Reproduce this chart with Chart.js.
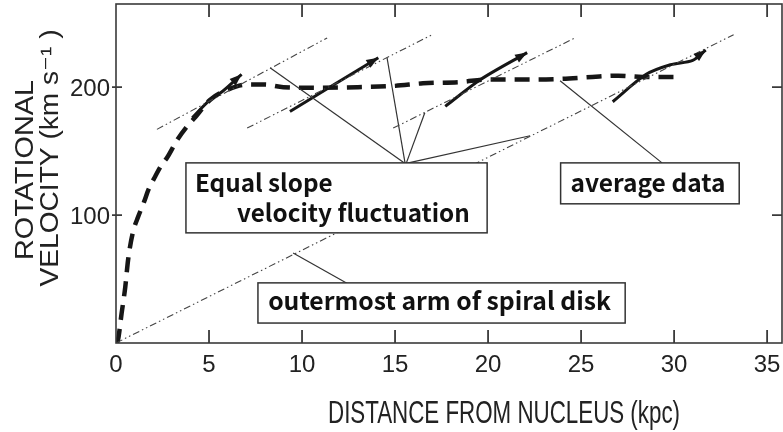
<!DOCTYPE html>
<html>
<head>
<script src="https://cdn.jsdelivr.net/npm/chart.js@4.4.1/dist/chart.umd.min.js"></script>
<style>
    html, body { margin: 0; padding: 0; background: #fff; overflow: hidden; }
</style>
</head>
<body>
<canvas id="myChart" width="783" height="432"></canvas>
<script>
// average rotation curve (thick dashed)
const avgX = [0, 0.1, 0.3, 0.5, 0.65, 0.9, 1.2, 1.5, 1.75, 2.1, 2.4, 2.75, 3.3, 3.8, 4.35, 5.05, 6, 7, 8, 9, 11, 13, 15, 16.5, 18.5, 20, 22.5, 24, 25.6, 27, 28.3, 30.3];
const avgY = [0, 2, 23, 44, 65, 86, 99, 110, 120, 130, 138, 145, 159, 169, 178, 190, 198, 202, 202, 200, 199.5, 200, 201, 203, 204, 206, 206, 206.5, 208, 209, 208, 208];

// measured velocity segments (solid arrows)
const arrow1X = [4.1, 5.05, 5.75, 6.75];
const arrow1Y = [176, 190, 197, 210];
const arrow2X = [9.35, 14.1];
const arrow2Y = [181, 223];
const arrow3X = [17.7, 19.6, 22.1];
const arrow3Y = [185, 206, 227];
const arrow4X = [26.7, 28.5, 29.8, 31.0, 31.7];
const arrow4Y = [188.6, 210, 217.5, 221, 229];

// equal slope guide lines (dash-dot); slope0 = outermost arm of spiral disk
const slope0X = [0, 33.2];
const slope0Y = [0, 241];
const slope1X = [2.2, 11.35];
const slope1Y = [167, 238.5];
const slope2X = [7.05, 17.0];
const slope2Y = [168, 241];
const slope3X = [14.9, 24.7];
const slope3Y = [168, 238.7];

// leader lines from the labels
const lead1X = [15.54, 8.28], lead1Y = [140.4, 215.2];
const lead2X = [15.54, 14.57], lead2Y = [140.4, 223];
const lead3X = [15.6, 16.6], lead3Y = [140.4, 180];
const lead4X = [15.6, 22.26], lead4Y = [140.4, 162];
const lead5X = [29.35, 23.87], lead5Y = [140.8, 205];
const lead6X = [12.58, 9.52], lead6Y = [45.4, 70.4];

// ticks
const xTicks = [0, 5, 10, 15, 20, 25, 30, 35];
const yTicks = [100, 200];

const ink = '#161616';

function pts(xs, ys) {
    return xs.map((v, i) => ({ x: v, y: ys[i] }));
}

function guide(xs, ys) {
    return { data: pts(xs, ys), showLine: true, pointRadius: 0, borderColor: '#444', borderWidth: 1.1, borderDash: [7, 3, 1.5, 3, 1.5, 3] };
}
function arrow(xs, ys) {
    return { data: pts(xs, ys), showLine: true, pointRadius: 0, borderColor: ink, borderWidth: 3, tension: 0.3, arrow: true };
}
function lead(xs, ys) {
    return { data: pts(xs, ys), showLine: true, pointRadius: 0, borderColor: '#333', borderWidth: 1.2 };
}

// label boxes (data-space corners) and their lines
const notes = [
    { x0: 3.76, x1: 19.95, y0: 86.1, y1: 140.8, fitW: 233, fitIdx: 1,
      lines: [{ t: 'Equal slope', dx: 9, dy: 29 }, { t: 'velocity fluctuation', dx: 51, dy: 59 }] },
    { x0: 23.9, x1: 33.5, y0: 108.8, y1: 140.8, fitW: 155, fitIdx: 0,
      lines: [{ t: 'average data', dy: 29 }] },
    { x0: 7.63, x1: 27.37, y0: 15.6, y1: 47, fitW: 343, fitIdx: 0,
      lines: [{ t: 'outermost arm of spiral disk', dy: 27 }] }
];

function text(ctx, txt, x, y, o) {
    ctx.save();
    ctx.font = o.font;
    ctx.translate(x, y);
    if (o.rot) ctx.rotate(o.rot);
    const w = ctx.measureText(txt).width;
    ctx.scale(o.width ? o.width / w : 1, 1);
    ctx.textAlign = o.align || 'left';
    ctx.textBaseline = 'alphabetic';
    ctx.fillStyle = o.color || ink;
    ctx.fillText(txt, 0, 0);
    ctx.restore();
}

const overlay = {
    id: 'overlay',
    afterDatasetsDraw(chart) {
        const { ctx, scales: { x, y } } = chart;
        // arrow heads
        chart.data.datasets.forEach(ds => {
            if (!ds.arrow) return;
            const n = ds.data.length;
            const x1 = x.getPixelForValue(ds.data[n - 2].x), y1 = y.getPixelForValue(ds.data[n - 2].y);
            const x2 = x.getPixelForValue(ds.data[n - 1].x), y2 = y.getPixelForValue(ds.data[n - 1].y);
            const a = Math.atan2(y2 - y1, x2 - x1);
            const L = 12, W = 4.5;
            ctx.save();
            ctx.fillStyle = ink;
            ctx.beginPath();
            ctx.moveTo(x2, y2);
            ctx.lineTo(x2 - L * Math.cos(a) + W * Math.sin(a), y2 - L * Math.sin(a) - W * Math.cos(a));
            ctx.lineTo(x2 - L * Math.cos(a) - W * Math.sin(a), y2 - L * Math.sin(a) + W * Math.cos(a));
            ctx.closePath();
            ctx.fill();
            ctx.restore();
        });
        // label boxes
        notes.forEach(b => {
            const l = x.getPixelForValue(b.x0), r = x.getPixelForValue(b.x1);
            const t = y.getPixelForValue(b.y1), bt = y.getPixelForValue(b.y0);
            ctx.save();
            ctx.fillStyle = '#fff';
            ctx.fillRect(l, t, r - l, bt - t);
            ctx.strokeStyle = '#333';
            ctx.lineWidth = 1.5;
            ctx.strokeRect(l, t, r - l, bt - t);
            ctx.font = 'bold 24px "Noto Sans CJK JP", "Noto Sans", sans-serif';
            const size = 24 * b.fitW / ctx.measureText(b.lines[b.fitIdx].t).width;
            const font = 'bold ' + size.toFixed(2) + 'px "Noto Sans CJK JP", "Noto Sans", sans-serif';
            b.lines.forEach(ln => {
                if (ln.dx !== undefined) text(ctx, ln.t, l + ln.dx, t + ln.dy, { font: font, color: '#111' });
                else text(ctx, ln.t, (l + r) / 2 - 2, t + ln.dy, { font: font, align: 'center', color: '#111' });
            });
            ctx.restore();
        });
    },
    afterDraw(chart) {
        const { ctx, chartArea: a, scales: { x, y } } = chart;
        ctx.save();
        // frame
        ctx.strokeStyle = '#3a3a3a';
        ctx.lineWidth = 1.6;
        ctx.strokeRect(a.left, a.top, a.right - a.left, a.bottom - a.top);
        // inward ticks
        ctx.lineWidth = 1.8;
        ctx.beginPath();
        xTicks.forEach(v => {
            if (v === 0) return;
            const px = x.getPixelForValue(v);
            ctx.moveTo(px, a.bottom); ctx.lineTo(px, a.bottom - 13);
            ctx.moveTo(px, a.top); ctx.lineTo(px, a.top + 13);
        });
        yTicks.forEach(v => {
            const py = y.getPixelForValue(v);
            ctx.moveTo(a.left - 4, py); ctx.lineTo(a.left + 6, py);
            ctx.moveTo(a.right, py); ctx.lineTo(a.right - 10, py);
        });
        ctx.stroke();
        ctx.restore();
        // tick labels
        const tf = '24px "Liberation Sans", Arial, sans-serif';
        xTicks.forEach(v => {
            text(ctx, String(v), x.getPixelForValue(v), a.bottom + 29, { font: tf, align: 'center', color: '#222' });
        });
        yTicks.forEach(v => {
            text(ctx, String(v), a.left - 6, y.getPixelForValue(v) + 9, { font: tf, align: 'right', color: '#222' });
        });
        // axis titles
        text(ctx, 'DISTANCE FROM NUCLEUS (kpc)', 328, 423, { font: '31px "Liberation Sans", Arial, sans-serif', width: 352, color: '#222' });
        text(ctx, 'ROTATIONAL', 33, 170, { font: '25px "Liberation Sans", Arial, sans-serif', width: 180, align: 'center', rot: -Math.PI / 2, color: '#222' });
        text(ctx, 'VELOCITY (km s\u207B\u00B9 )', 58, 158, { font: '25px "Liberation Sans", "DejaVu Sans", Arial, sans-serif', width: 257, align: 'center', rot: -Math.PI / 2, color: '#222' });
    }
};

const ctx = document.getElementById('myChart').getContext('2d');
const myChart = new Chart(ctx, {
    type: 'scatter',
    data: {
        datasets: [
            guide(slope0X, slope0Y),
            guide(slope1X, slope1Y),
            guide(slope2X, slope2Y),
            guide(slope3X, slope3Y),
            lead(lead1X, lead1Y),
            lead(lead2X, lead2Y),
            lead(lead3X, lead3Y),
            lead(lead4X, lead4Y),
            lead(lead5X, lead5Y),
            lead(lead6X, lead6Y),
            {
                data: pts(avgX, avgY),
                showLine: true,
                pointRadius: 0,
                borderColor: ink,
                borderWidth: 4.5,
                borderDash: [15, 9],
                cubicInterpolationMode: 'monotone'
            },
            arrow(arrow1X, arrow1Y),
            arrow(arrow2X, arrow2Y),
            arrow(arrow3X, arrow3Y),
            arrow(arrow4X, arrow4Y)
        ]
    },
    options: {
        responsive: false,
        animation: false,
        layout: { padding: { top: 4, right: 1, left: 0, bottom: 0 } },
        plugins: { legend: { display: false }, tooltip: { enabled: false } },
        scales: {
            x: {
                type: 'linear', min: 0, max: 35.8,
                ticks: { display: false, stepSize: 5 },
                grid: { display: false, drawTicks: false },
                border: { display: false },
                afterFit: s => { s.height = 89; }
            },
            y: {
                type: 'linear', min: 0, max: 265,
                ticks: { display: false, stepSize: 100 },
                grid: { display: false, drawTicks: false },
                border: { display: false },
                afterFit: s => { s.width = 116; }
            }
        }
    },
    plugins: [overlay]
});
</script>
</body>
</html>
